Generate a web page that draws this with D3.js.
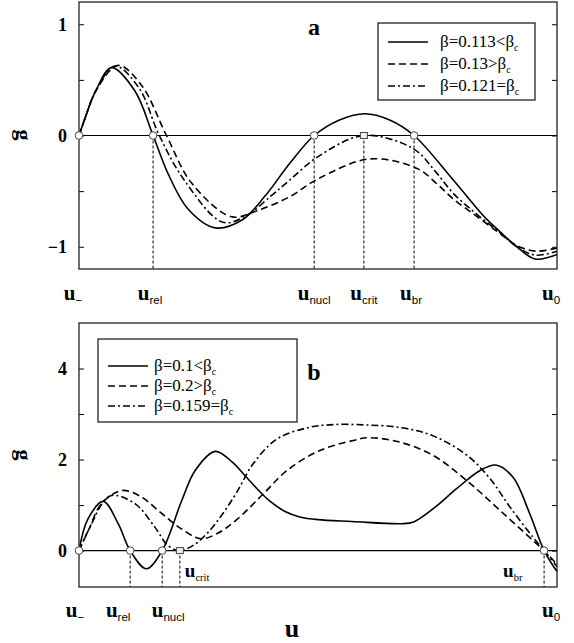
<!DOCTYPE html>
<html>
<head>
<meta charset="utf-8">
<script src="https://cdn.jsdelivr.net/npm/d3@7"></script>
<style>
  body { margin: 0; background: #fff; }
  svg { display: block; }
</style>
</head>
<body>
<div id="viz"></div>
<script>
// panel a : g(u) for three beta values
const aSolidU = [0, 0.013, 0.035, 0.068, 0.117, 0.155, 0.186, 0.228, 0.285, 0.341, 0.39, 0.441, 0.492, 0.545, 0.598, 0.65, 0.701, 0.783, 0.85, 0.877, 0.916, 0.954, 1.0];
const aSolidG = [0, 0.16, 0.40, 0.61, 0.40, 0, -0.34, -0.66, -0.83, -0.76, -0.54, -0.25, 0, 0.14, 0.196, 0.14, 0, -0.40, -0.74, -0.85, -1.0, -1.11, -1.07];
const aDashU  = [0, 0.013, 0.035, 0.082, 0.131, 0.183, 0.236, 0.319, 0.37, 0.441, 0.50, 0.609, 0.709, 0.75, 0.783, 0.83, 0.877, 0.916, 0.957, 1.0];
const aDashG  = [0, 0.16, 0.40, 0.63, 0.45, 0, -0.43, -0.73, -0.68, -0.55, -0.39, -0.21, -0.30, -0.44, -0.57, -0.72, -0.87, -0.99, -1.04, -1.01];
const aDotU   = [0, 0.013, 0.035, 0.075, 0.125, 0.168, 0.22, 0.301, 0.35, 0.40, 0.441, 0.50, 0.596, 0.70, 0.745, 0.783, 0.83, 0.877, 0.916, 0.955, 1.0];
const aDotG   = [0, 0.16, 0.40, 0.625, 0.43, 0, -0.40, -0.78, -0.72, -0.55, -0.40, -0.19, 0, -0.12, -0.32, -0.52, -0.70, -0.86, -1.0, -1.075, -1.04];

// panel b
const bSolidU = [0, 0.019, 0.051, 0.082, 0.107, 0.141, 0.174, 0.215, 0.243, 0.285, 0.32, 0.347, 0.375, 0.40, 0.431, 0.462, 0.50, 0.571, 0.675, 0.70, 0.741, 0.79, 0.839, 0.872, 0.908, 0.943, 0.973, 1.0];
const bSolidG = [0, 0.70, 1.08, 0.59, 0, -0.40, 0, 1.10, 1.76, 2.18, 1.95, 1.65, 1.33, 1.08, 0.86, 0.74, 0.68, 0.64, 0.59, 0.63, 0.92, 1.36, 1.76, 1.88, 1.61, 0.81, 0, -0.46];
const bDashU  = [0, 0.02, 0.047, 0.09, 0.13, 0.169, 0.211, 0.255, 0.29, 0.33, 0.386, 0.434, 0.504, 0.574, 0.605, 0.672, 0.741, 0.811, 0.881, 0.95, 0.973, 1.0];
const bDashG  = [0, 0.45, 1.03, 1.32, 1.18, 0.85, 0.50, 0.26, 0.38, 0.68, 1.25, 1.75, 2.20, 2.42, 2.48, 2.38, 2.09, 1.54, 0.88, 0.22, 0, -0.30];
const bDotU   = [0, 0.02, 0.065, 0.117, 0.159, 0.186, 0.211, 0.24, 0.27, 0.30, 0.33, 0.364, 0.414, 0.483, 0.536, 0.60, 0.675, 0.741, 0.811, 0.86, 0.902, 0.95, 0.973, 1.0];
const bDotG   = [0, 0.45, 1.20, 1.03, 0.51, 0.11, 0, 0.12, 0.40, 0.80, 1.28, 1.90, 2.45, 2.71, 2.77, 2.76, 2.70, 2.52, 2.10, 1.58, 0.95, 0.29, 0, -0.35];

// special points
const aPoints = { rel: 0.155, nucl: 0.492, crit: 0.596, br: 0.701 };
const bPoints = { rel: 0.107, nucl: 0.174, crit: 0.211, br: 0.973 };

const aLegend = [["β=0.113<β", "solid"], ["β=0.13>β", "dash"], ["β=0.121=β", "dot"]];
const bLegend = [["β=0.1<β", "solid"], ["β=0.2>β", "dash"], ["β=0.159=β", "dot"]];

const aTicks = [-1, 0, 1];
const aMinor = [-0.5, 0.5];
const bTicks = [0, 2, 4];
const bMinor = [1, 3];

const width = 574, height = 643;
const serif = "'Liberation Serif', 'Times New Roman', serif";
const sans = "'Liberation Sans', Arial, sans-serif";

const dashes = { solid: null, dash: "7,4", dot: "7,3,2,3" };

const svg = d3.select("#viz").append("svg")
  .attr("width", width)
  .attr("height", height);

function zip(u, g) { return u.map((v, i) => [v, g[i]]); }

function panel(opts) {
  const x = d3.scaleLinear().domain([0, 1]).range([79, 557]);
  const y = d3.scaleLinear().domain(opts.ydom).range([opts.bottom, opts.top]);
  const g = svg.append("g");

  // ticks, pointing inwards on both sides
  const left = d3.axisLeft(y).tickValues(opts.ticks).tickSize(-5).tickPadding(12).tickFormat(d3.format("d"));
  const gl = g.append("g").attr("transform", "translate(79,0)").call(left);
  gl.select(".domain").remove();
  gl.selectAll("text").attr("font-family", serif).attr("font-weight", "bold").attr("font-size", 18).attr("fill", "#000");
  g.append("g").attr("transform", "translate(79,0)")
    .call(d3.axisLeft(y).tickValues(opts.minor).tickSize(-5).tickFormat(""))
    .select(".domain").remove();
  g.append("g").attr("transform", "translate(557,0)")
    .call(d3.axisRight(y).tickValues(opts.ticks.concat(opts.minor)).tickSize(-5).tickFormat(""))
    .select(".domain").remove();

  // zero line
  g.append("line").attr("x1", 79).attr("x2", 557).attr("y1", y(0)).attr("y2", y(0))
    .attr("stroke", "#000").attr("stroke-width", 1.2);

  // guide lines down from the special points
  Object.values(opts.pts).forEach(p => {
    g.append("line").attr("x1", x(p)).attr("x2", x(p)).attr("y1", y(0)).attr("y2", opts.bottom)
      .attr("stroke", "#000").attr("stroke-width", 1).attr("stroke-dasharray", "3,2");
  });

  const line = d3.line().x(d => x(d[0])).y(d => y(d[1])).curve(d3.curveCatmullRom.alpha(0.5));
  opts.curves.forEach(c => {
    g.append("path").attr("d", line(zip(c.u, c.g)))
      .attr("fill", "none").attr("stroke", "#000").attr("stroke-width", 1.6)
      .attr("stroke-dasharray", dashes[c.style]);
  });

  // frame
  g.append("rect").attr("x", 79).attr("y", opts.top).attr("width", 478).attr("height", opts.bottom - opts.top)
    .attr("fill", "none").attr("stroke", "#222").attr("stroke-width", 1.3);

  // markers
  [0, opts.pts.rel, opts.pts.nucl, opts.pts.br].forEach(p => {
    g.append("circle").attr("cx", x(p)).attr("cy", y(0)).attr("r", 3.8)
      .attr("fill", "#fff").attr("stroke", "#444").attr("stroke-width", 1);
  });
  g.append("rect").attr("x", x(opts.pts.crit) - 3.5).attr("y", y(0) - 3).attr("width", 7).attr("height", 6)
    .attr("fill", "#eee").attr("stroke", "#444").attr("stroke-width", 1);

  // legend
  const lg = g.append("g");
  lg.append("rect").attr("x", opts.leg.x).attr("y", opts.leg.y).attr("width", opts.leg.w).attr("height", opts.leg.h)
    .attr("fill", "#fff").attr("stroke", "#222").attr("stroke-width", 1.3);
  opts.legend.forEach((d, i) => {
    const ry = opts.leg.y + opts.leg.row0 + i * opts.leg.dy;
    lg.append("line").attr("x1", opts.leg.x + 10).attr("x2", opts.leg.x + 50).attr("y1", ry).attr("y2", ry)
      .attr("stroke", "#000").attr("stroke-width", 1.6).attr("stroke-dasharray", dashes[d[1]]);
    const t = lg.append("text").attr("x", opts.leg.x + opts.leg.tx).attr("y", ry + 5)
      .attr("font-family", serif).attr("font-size", 17);
    t.append("tspan").text(d[0]);
    t.append("tspan").attr("font-size", 10).attr("dy", 4).text("c");
  });

  // panel letter
  g.append("text").attr("x", 314).attr("y", opts.top + opts.letterY).attr("text-anchor", "middle")
    .attr("font-family", serif).attr("font-weight", "bold").attr("font-size", 24).text(opts.letter);

  // g label
  g.append("text").attr("transform", `translate(17,${opts.gY}) rotate(90)`).attr("text-anchor", "middle")
    .attr("font-family", serif).attr("font-weight", "bold").attr("font-size", 22).text("g");

  return { x, y, g };
}

function uLabel(parent, xPos, yPos, sub, anchor, subFont, size) {
  const t = parent.append("text").attr("x", xPos).attr("y", yPos).attr("text-anchor", anchor);
  t.append("tspan").attr("font-family", serif).attr("font-weight", "bold").attr("font-size", size).text("u");
  t.append("tspan").attr("font-family", subFont).attr("font-size", size * 0.55).attr("dy", 4).text(sub);
}

const A = panel({
  ydom: [-1.2, 1.2], top: 2, bottom: 269, ticks: aTicks, minor: aMinor, pts: aPoints,
  curves: [{ u: aSolidU, g: aSolidG, style: "solid" }, { u: aDashU, g: aDashG, style: "dash" }, { u: aDotU, g: aDotG, style: "dot" }],
  legend: aLegend, leg: { x: 378, y: 23, w: 157, h: 77, row0: 19, dy: 22, tx: 62 },
  letter: "a", letterY: 33, gY: 135
});

const B = panel({
  ydom: [-0.8, 5], top: 323, bottom: 587, ticks: bTicks, minor: bMinor, pts: bPoints,
  curves: [{ u: bSolidU, g: bSolidG, style: "solid" }, { u: bDashU, g: bDashG, style: "dash" }, { u: bDotU, g: bDotG, style: "dot" }],
  legend: bLegend, leg: { x: 98, y: 339, w: 199, h: 83, row0: 27, dy: 20, tx: 56 },
  letter: "b", letterY: 57, gY: 455
});

// labels under panel a
uLabel(svg, A.x(0) - 6, 300, "−", "middle", sans, 21);
uLabel(svg, A.x(aPoints.rel) - 3, 300, "rel", "middle", sans, 21);
uLabel(svg, A.x(aPoints.nucl), 300, "nucl", "middle", sans, 21);
uLabel(svg, A.x(aPoints.crit), 300, "crit", "middle", sans, 21);
uLabel(svg, A.x(aPoints.br) - 3, 300, "br", "middle", sans, 21);
uLabel(svg, A.x(1) - 6, 300, "0", "middle", sans, 21);

// labels under / inside panel b
uLabel(svg, B.x(0) - 4, 617, "−", "middle", sans, 21);
uLabel(svg, B.x(bPoints.rel) - 12, 617, "rel", "middle", sans, 21);
uLabel(svg, B.x(bPoints.nucl) + 6, 617, "nucl", "middle", sans, 21);
uLabel(svg, B.x(1) - 6, 617, "0", "middle", sans, 21);
uLabel(svg, B.x(bPoints.crit) + 5, 577, "crit", "start", serif, 19);
uLabel(svg, B.x(bPoints.br) - 41, 577, "br", "start", serif, 19);

svg.append("text").attr("x", 292).attr("y", 637).attr("text-anchor", "middle")
  .attr("font-family", serif).attr("font-weight", "bold").attr("font-size", 26).text("u");
</script>
</body>
</html>
